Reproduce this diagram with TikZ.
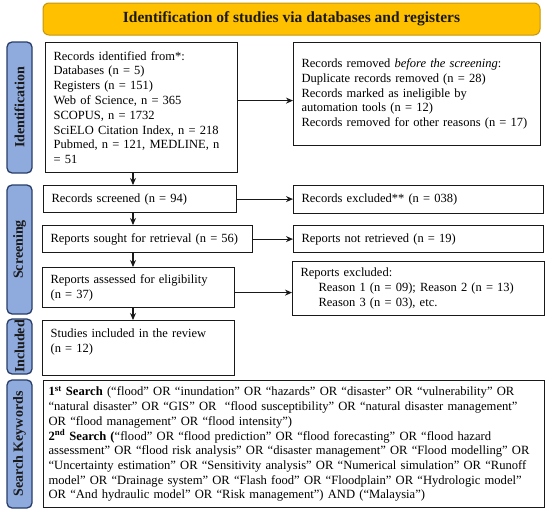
\documentclass[tikz,border=0pt]{standalone}
\usepackage{fontspec}
\setmainfont{Liberation Serif}
\usetikzlibrary{arrows.meta, positioning}
\definecolor{titleGold}{RGB}{255,192,0}
\definecolor{titleEdge}{RGB}{196,150,10}
\definecolor{sideBlue}{RGB}{143,170,220}
\definecolor{sideEdge}{RGB}{40,62,105}
\definecolor{mainBlack}{gray}{0.1}

\begin{document}
\begin{tikzpicture}[x=1pt, y=-1pt, >={Stealth[length=7pt, width=6pt]},
    rec/.style={draw=mainBlack, line width=1.2pt, anchor=north west, align=left,
        inner xsep=8pt, inner ysep=2pt, font=\fontsize{12.5}{14.8}\selectfont},
    sidebar/.style={draw=sideEdge, fill=sideBlue, line width=1.3pt, rounded corners=5pt,
        rotate=90, minimum height=25pt, inner sep=0pt, text=mainBlack,
        font=\fontsize{14}{15}\selectfont\bfseries},
    flow/.style={->, line width=1.1pt, mainBlack}]

    % page size
    \useasboundingbox (0,0) rectangle (550,514);

    % heading
    \node[draw=titleEdge, fill=titleGold, line width=1pt, rounded corners=6pt,
        minimum width=497pt, minimum height=32pt, text=mainBlack,
        font=\fontsize{15.5}{17}\selectfont\bfseries] (title) at (291.5,19)
        {Identification of studies via databases and registers};

    % phases on the left
    \node[sidebar, minimum width=131pt] (phIdent) at (19.5,107.5) {Identification};
    \node[sidebar, minimum width=129pt] (phScreen) at (19.5,249.5) {Screening};
    \node[sidebar, minimum width=55pt] (phIncl) at (19.5,346.5) {Included};
    \node[sidebar, minimum width=128pt] (phSearch) at (19.5,444) {Search Keywords};

    % main column
    \node[rec, text width=176pt, minimum height=130pt] (ident) at (45,42)
        {Records identified from*:\\
         Databases (n = 5)\\
         Registers (n = 151)\\
         Web of Science, n = 365\\
         SCOPUS, n = 1732\\
         SciELO Citation Index, n = 218\\
         Pubmed, n = 121, MEDLINE, n\\
         = 51};
    \node[rec, text width=177pt, minimum height=27pt] (screened) at (43,185)
        {Records screened (n = 94)};
    \node[rec, text width=194pt, minimum height=27pt] (sought) at (42,225)
        {Reports sought for retrieval (n = 56)};
    \node[rec, text width=176pt, minimum height=40pt] (assessed) at (42,267)
        {Reports assessed for eligibility\\(n = 37)};
    \node[rec, text width=176pt, minimum height=55pt] (included) at (42,320)
        {Studies included in the review\\(n = 12)\\\mbox{}};

    % right column
    \node[rec, text width=231pt, minimum height=103pt] (removed) at (293,42)
        {Records removed \textit{before the screening}:\\
         Duplicate records removed (n = 28)\\
         Records marked as ineligible by\\
         automation tools (n = 12)\\
         Records removed for other reasons (n = 17)};
    \node[rec, text width=234pt, minimum height=28pt] (excluded) at (293,185)
        {Records excluded** (n = 038)};
    \node[rec, text width=234pt, minimum height=27pt] (notret) at (293,225)
        {Reports not retrieved (n = 19)};
    \node[rec, text width=236pt, minimum height=54pt] (rexcl) at (292,261)
        {Reports excluded:\\
         \hspace*{18pt}Reason 1 (n = 09); Reason 2 (n = 13)\\
         \hspace*{18pt}Reason 3 (n = 03), etc.};

    % search strings
    \node[rec, inner xsep=5pt, inner ysep=3pt, text width=491pt, minimum height=127pt,
        font=\fontsize{12.6}{14.7}\selectfont] (search) at (43,380)
        {\textbf{1\textsuperscript{st} Search} (“flood” OR “inundation” OR “hazards” OR “disaster” OR “vulnerability” OR\\
         “natural disaster” OR “GIS” OR \ “flood susceptibility” OR “natural disaster management”\\
         OR “flood management” OR “flood intensity”)\\
         \textbf{2\textsuperscript{nd} Search (}“flood” OR “flood prediction” OR “flood forecasting” OR “flood hazard\\
         assessment” OR “flood risk analysis” OR “disaster management” OR “Flood modelling” OR\\
         “Uncertainty estimation” OR “Sensitivity analysis” OR “Numerical simulation” OR “Runoff\\
         model” OR “Drainage system” OR “Flash food” OR “Floodplain” OR “Hydrologic model”\\
         OR “And hydraulic model” OR “Risk management”) AND (“Malaysia”)};

    % connectors
    \coordinate (spine) at (133,0);
    \draw[flow] (ident.south -| spine) -- (screened.north -| spine);
    \draw[flow] (screened.south -| spine) -- (sought.north -| spine);
    \draw[flow] (sought.south -| spine) -- (assessed.north -| spine);
    \draw[flow] (assessed.south -| spine) -- (included.north -| spine);

    \draw[flow] ([yshift=7pt]ident.east) -- ([yshift=7pt]ident.east -| removed.west);
    \draw[flow] (screened.east) -- (screened.east -| excluded.west);
    \draw[flow] (sought.east) -- (sought.east -| notret.west);
    \draw[flow] ([yshift=-5pt]assessed.east) -- ([yshift=-5pt]assessed.east -| rexcl.west);
\end{tikzpicture}
\end{document}
